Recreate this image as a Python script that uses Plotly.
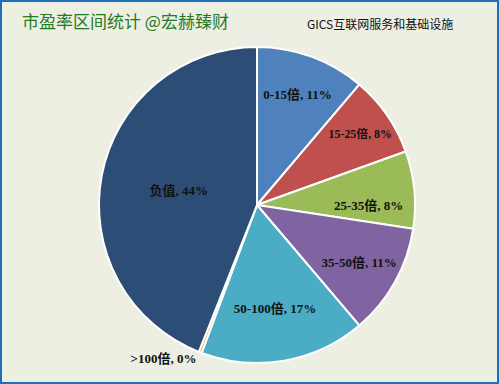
import plotly.graph_objects as go

labels = ["0-15倍", "15-25倍", "25-35倍", "35-50倍", "50-100倍", ">100倍", "负值"]
values = [11.2, 8.3, 7.9, 11.4, 16.9, 0.3, 44.0]
colors = ["#4F81BD", "#C0504D", "#9BBB59", "#8064A2", "#4BACC6", "#F79646", "#2C4D75"]
title_text = "市盈率区间统计 @宏赫臻财"
subtitle_text = "GICS互联网服务和基础设施"

W, H = 499, 384
cx, cy, r = 257, 205, 158

fig = go.Figure(go.Pie(
    labels=labels,
    values=values,
    sort=False,
    direction="clockwise",
    rotation=0,
    marker=dict(colors=colors, line=dict(color="white", width=2)),
    texttemplate="%{label}, %{percent:.0%}",
    textposition=["inside", "inside", "inside", "inside", "inside", "outside", "inside"],
    insidetextorientation="horizontal",
    textfont=dict(family="Liberation Serif, Noto Sans CJK SC", size=13, color="#111111", weight="bold"),
    outsidetextfont=dict(family="Liberation Serif, Noto Sans CJK SC", size=13, color="#111111", weight="bold"),
    domain=dict(x=[(cx - r) / W, (cx + r) / W], y=[(H - cy - r) / H, (H - cy + r) / H]),
    showlegend=False,
    hoverinfo="label+percent",
))

fig.update_layout(
    width=W, height=H,
    margin=dict(l=0, r=0, t=0, b=0),
    paper_bgcolor="#EDEFE3",
    plot_bgcolor="#EDEFE3",
    shapes=[dict(type="rect", xref="paper", yref="paper", x0=0, x1=1, y0=0, y1=1,
                 line=dict(color="#1E70B8", width=4))],
    annotations=[
        dict(text=title_text, xref="paper", yref="paper", x=20 / W, y=1 - 20 / H,
             xanchor="left", yanchor="middle", showarrow=False,
             font=dict(family="Noto Sans CJK SC", size=17, color="#237A23")),
        dict(text=subtitle_text, xref="paper", yref="paper", x=455 / W, y=1 - 23 / H,
             xanchor="right", yanchor="middle", showarrow=False,
             font=dict(family="Noto Sans CJK SC", size=12, color="#111111")),
    ],
)

fig.write_html("out.html", config={"displayModeBar": False},
               post_script="document.body.style.margin='0';document.body.style.overflow='hidden';")
